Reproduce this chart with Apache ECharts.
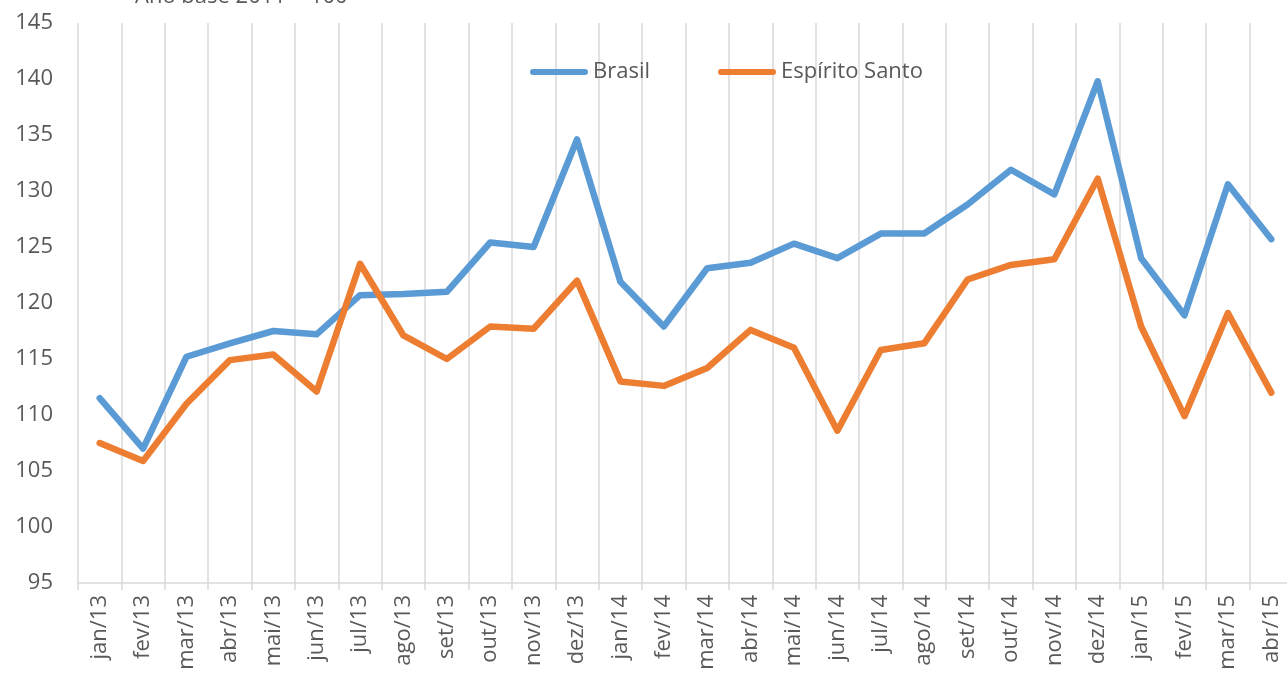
<!DOCTYPE html>
<html>
<head>
<meta charset="utf-8">
<script src="https://cdn.jsdelivr.net/npm/echarts@6/dist/echarts.min.js"></script>
<style>
html,body{margin:0;padding:0;background:#fff;overflow:hidden;width:1287px;height:679px;}
#chart{width:1296px;height:679px;}
</style>
</head>
<body>
<div id="chart"></div>
<script>
const categories = ['jan/13','fev/13','mar/13','abr/13','mai/13','jun/13','jul/13','ago/13','set/13','out/13','nov/13','dez/13',
  'jan/14','fev/14','mar/14','abr/14','mai/14','jun/14','jul/14','ago/14','set/14','out/14','nov/14','dez/14',
  'jan/15','fev/15','mar/15','abr/15'];
const brasil = [111.5,107.0,115.2,116.4,117.5,117.2,120.7,120.8,121.0,125.4,125.0,134.6,
  121.9,117.9,123.1,123.6,125.3,124.0,126.2,126.2,128.8,131.9,129.7,139.8,
  124.0,118.9,130.6,125.7];
const espiritoSanto = [107.5,105.9,111.0,114.9,115.4,112.1,123.5,117.1,115.0,117.9,117.7,122.0,
  113.0,112.6,114.2,117.6,116.0,108.6,115.8,116.4,122.1,123.4,123.9,131.1,
  117.9,109.9,119.1,112.0];
const seriesNames = ['Brasil','Espírito Santo'];
const subtitle = 'Ano base 2011 = 100';

const FONT = '"Open Sans", sans-serif';
const TXT = '#595959';
const pill = 'path://M3,0 L55,0 A3,3 0 0 1 55,6 L3,6 A3,3 0 0 1 3,0 Z';

const chart = echarts.init(document.getElementById('chart'));
chart.setOption({
  animation: false,
  backgroundColor: '#ffffff',
  color: ['#5B9BD5','#ED7D31'],
  graphic: [{
    type: 'text', left: 135, top: -14,
    style: { text: subtitle, fill: TXT, font: '22px ' + FONT }
  }],
  legend: {
    left: 525, top: 56,
    itemWidth: 58, itemHeight: 7, itemGap: 68,
    icon: pill,
    textStyle: { color: TXT, fontSize: 22, fontFamily: FONT },
    data: seriesNames
  },
  grid: { left: 78, top: 23, right: 3, bottom: 96, containLabel: false },
  xAxis: {
    type: 'category',
    data: categories,
    boundaryGap: true,
    axisLine: { show: true, lineStyle: { color: '#d9d9d9', width: 1.5 } },
    axisTick: { show: true, length: 7, lineStyle: { color: '#d9d9d9', width: 1.5 } },
    splitLine: { show: true, lineStyle: { color: '#d9d9d9', width: 1.5 } },
    axisLabel: { rotate: 90, interval: 0, margin: 12, color: TXT, fontSize: 22, fontFamily: FONT }
  },
  yAxis: {
    type: 'value',
    min: 95, max: 145, interval: 5,
    axisLine: { show: false },
    axisTick: { show: false },
    splitLine: { show: false },
    axisLabel: { margin: 25, color: TXT, fontSize: 22, fontFamily: FONT }
  },
  series: [
    { name: seriesNames[0], type: 'line', data: brasil, symbol: 'none', smooth: false,
      lineStyle: { width: 6.5, cap: 'round', join: 'round' } },
    { name: seriesNames[1], type: 'line', data: espiritoSanto, symbol: 'none', smooth: false,
      lineStyle: { width: 6.5, cap: 'round', join: 'round' } }
  ]
});
</script>
</body>
</html>
